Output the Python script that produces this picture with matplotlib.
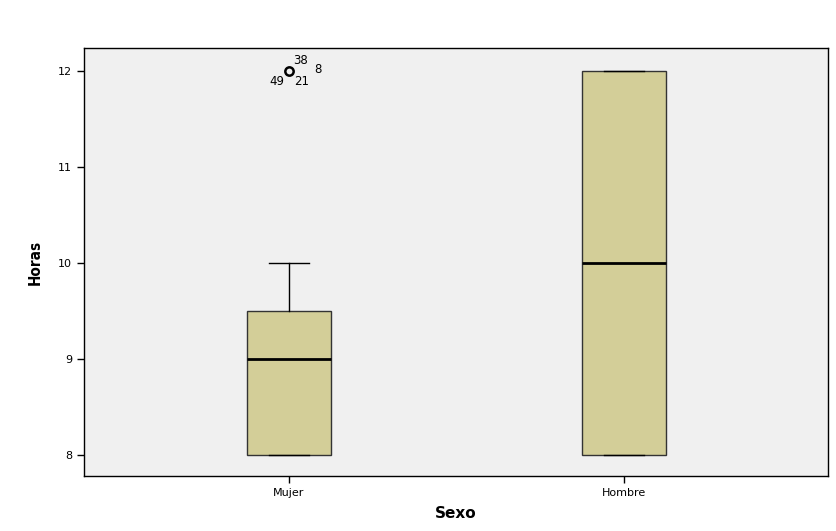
import matplotlib
matplotlib.use("Agg")
import matplotlib.pyplot as plt

categories = ["Mujer", "Hombre"]
q1 = [8, 8]
median = [9, 10]
q3 = [9.5, 12]
whislo = [8, 8]
whishi = [10, 12]
fliers = [[12], []]
outlier_labels = ["38", "8", "49", "21"]
yticks = [8, 9, 10, 11, 12]

fig = plt.figure(figsize=(8.37, 5.31), dpi=100)
ax = fig.add_axes([0.1004, 0.1036, 0.8888, 0.806])
ax.set_facecolor("#F0F0F0")

stats = []
for i, c in enumerate(categories):
    stats.append(dict(label=c, q1=q1[i], med=median[i], q3=q3[i],
                      whislo=whislo[i], whishi=whishi[i], fliers=fliers[i]))

pos = [1, 2]
ax.bxp(stats, positions=pos, widths=0.25, patch_artist=True, capwidths=0.12,
       boxprops=dict(facecolor="#D3CE98", edgecolor="#333333", linewidth=1.0),
       medianprops=dict(color="black", linewidth=2),
       whiskerprops=dict(color="black", linewidth=1),
       capprops=dict(color="black", linewidth=1),
       flierprops=dict(marker="o", markerfacecolor="none", markeredgecolor="black",
                       markersize=6, markeredgewidth=1.8))

# outlier case labels
offs = [(3, 3, "left", "bottom"), (18, 1, "left", "center"), (-3, -3, "right", "top"), (4, -3, "left", "top")]
for lab, (dx, dy, ha, va) in zip(outlier_labels, offs):
    ax.annotate(lab, (pos[0], fliers[0][0]), xytext=(dx, dy), textcoords="offset points",
                ha=ha, va=va, fontsize=8.5)

ax.set_xlim(0.388, 2.609)
ax.set_ylim(7.78, 12.24)
ax.set_yticks(yticks)
ax.set_yticklabels([str(t) for t in yticks], fontsize=8)
ax.set_xticks(pos)
ax.set_xticklabels(categories, fontsize=8)
ax.tick_params(direction="out", length=5, width=1)
ax.set_ylabel("Horas", fontsize=11, fontweight="bold", labelpad=11, fontstretch="condensed")
ax.set_xlabel("Sexo", fontsize=11, fontweight="bold", labelpad=6)
for s in ax.spines.values():
    s.set_color("black")
    s.set_linewidth(1)

fig.savefig("out.png", dpi=100, facecolor="white")
